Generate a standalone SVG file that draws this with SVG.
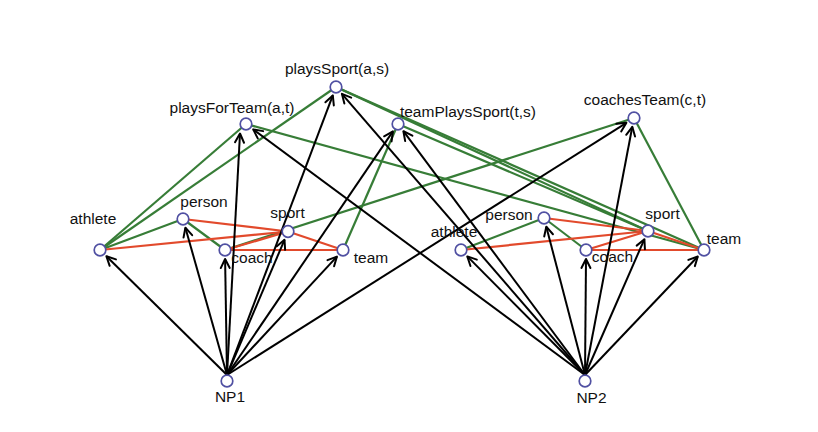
<svg xmlns="http://www.w3.org/2000/svg" width="818" height="432" viewBox="0 0 818 432">
<style>
.g{stroke:#377d37;stroke-width:2.2;fill:none}
.r{stroke:#e24a2c;stroke-width:2.2;fill:none}
.a{stroke:#000;stroke-width:2;fill:none;marker-end:url(#arr)}
.n{fill:#fff;stroke:#5050a2;stroke-width:1.7}
text{font-family:"Liberation Sans",Arial,sans-serif;font-size:15.5px;fill:#111;text-anchor:middle}
</style>
<defs>
<marker id="arr" viewBox="-12 -7 14 14" refX="0" refY="0" markerWidth="14" markerHeight="14" orient="auto" markerUnits="userSpaceOnUse">
<path d="M-9,-4.5 L0,0 L-9,4.5" fill="none" stroke="#000" stroke-width="2" stroke-linejoin="round" stroke-linecap="round"/>
</marker>
</defs>
<rect width="818" height="432" fill="#fff"/>
<g id="connectors">
<g id="green">
<line class="g" x1="100" y1="250" x2="246" y2="124"/>
<line class="g" x1="100" y1="250" x2="336" y2="87"/>
<line class="g" x1="100" y1="250" x2="183" y2="219"/>
<line class="g" x1="183" y1="219" x2="225" y2="250"/>
<line class="g" x1="343" y1="250" x2="398" y2="124"/>
<line class="g" x1="225" y1="250" x2="634" y2="118"/>
<line class="g" x1="336" y1="87" x2="648" y2="231"/>
<line class="g" x1="336" y1="87" x2="704" y2="250"/>
<line class="g" x1="398" y1="124" x2="648" y2="231"/>
<line class="g" x1="246" y1="124" x2="704" y2="250"/>
<line class="g" x1="634" y1="118" x2="704" y2="250"/>
<line class="g" x1="461" y1="250" x2="544" y2="218"/>
<line class="g" x1="544" y1="218" x2="586" y2="250"/>
</g>
<g id="red">
<line class="r" x1="183" y1="219" x2="288" y2="231.5"/>
<line class="r" x1="100" y1="250" x2="288" y2="231.5"/>
<line class="r" x1="225" y1="250" x2="288" y2="231.5"/>
<line class="r" x1="225" y1="250" x2="343" y2="250"/>
<line class="r" x1="288" y1="231.5" x2="343" y2="250"/>
<line class="r" x1="544" y1="218" x2="648" y2="231"/>
<line class="r" x1="461" y1="250" x2="648" y2="231"/>
<line class="r" x1="586" y1="250" x2="648" y2="231"/>
<line class="r" x1="586" y1="250" x2="704" y2="250"/>
<line class="r" x1="648" y1="231" x2="704" y2="250"/>
</g>
<g id="arrows">
<line class="a" x1="227" y1="375" x2="106.4" y2="256.3"/>
<line class="a" x1="227" y1="375" x2="185.4" y2="227.7"/>
<line class="a" x1="227" y1="375" x2="225.1" y2="259"/>
<line class="a" x1="227" y1="375" x2="240" y2="133.5"/>
<line class="a" x1="227" y1="375" x2="284.5" y2="239.8"/>
<line class="a" x1="227" y1="375" x2="332.8" y2="95.4"/>
<line class="a" x1="227" y1="375" x2="392.9" y2="131.4"/>
<line class="a" x1="227" y1="375" x2="336.9" y2="256.6"/>
<line class="a" x1="227" y1="375" x2="626.4" y2="122.8"/>
<line class="a" x1="585" y1="375" x2="467.3" y2="256.4"/>
<line class="a" x1="585" y1="375" x2="546.3" y2="226.7"/>
<line class="a" x1="585" y1="375" x2="586" y2="259"/>
<line class="a" x1="585" y1="375" x2="644.4" y2="239.2"/>
<line class="a" x1="585" y1="375" x2="697.8" y2="256.5"/>
<line class="a" x1="585" y1="375" x2="632.3" y2="126.8"/>
<line class="a" x1="585" y1="375" x2="341.9" y2="93.8"/>
<line class="a" x1="585" y1="375" x2="253.2" y2="129.4"/>
<line class="a" x1="585" y1="375" x2="403.4" y2="131.2"/>
</g>
</g>
<g id="playsSport"><circle class="n" cx="336" cy="87" r="5.8"/><text x="337" y="74">playsSport(a,s)</text></g>
<g id="playsForTeam"><circle class="n" cx="246" cy="124" r="5.8"/><text x="232" y="113">playsForTeam(a,t)</text></g>
<g id="teamPlaysSport"><circle class="n" cx="398" cy="124" r="5.8"/><text x="468" y="117">teamPlaysSport(t,s)</text></g>
<g id="coachesTeam"><circle class="n" cx="634" cy="118" r="5.8"/><text x="645" y="105">coachesTeam(c,t)</text></g>
<g id="athlete1"><circle class="n" cx="100" cy="250" r="5.8"/><text x="93" y="224">athlete</text></g>
<g id="person1"><circle class="n" cx="183" cy="219" r="5.8"/><text x="204" y="207">person</text></g>
<g id="sport1"><circle class="n" cx="288" cy="231.5" r="5.8"/><text x="287.5" y="218">sport</text></g>
<g id="coach1"><circle class="n" cx="225" cy="250" r="5.8"/><text x="252" y="263">coach</text></g>
<g id="team1"><circle class="n" cx="343" cy="250" r="5.8"/><text x="371" y="262.5">team</text></g>
<g id="athlete2"><circle class="n" cx="461" cy="250" r="5.8"/><text x="454" y="237">athlete</text></g>
<g id="person2"><circle class="n" cx="544" cy="218" r="5.8"/><text x="509" y="219.5">person</text></g>
<g id="sport2"><circle class="n" cx="648" cy="231" r="5.8"/><text x="662.5" y="218.5">sport</text></g>
<g id="coach2"><circle class="n" cx="586" cy="250" r="5.8"/><text x="612.5" y="262">coach</text></g>
<g id="team2"><circle class="n" cx="704" cy="250" r="5.8"/><text x="724" y="243.5">team</text></g>
<g id="NP1"><circle class="n" cx="227" cy="381" r="5.8"/><text x="230" y="401.5">NP1</text></g>
<g id="NP2"><circle class="n" cx="585" cy="381" r="5.8"/><text x="591.5" y="403">NP2</text></g>
</svg>
